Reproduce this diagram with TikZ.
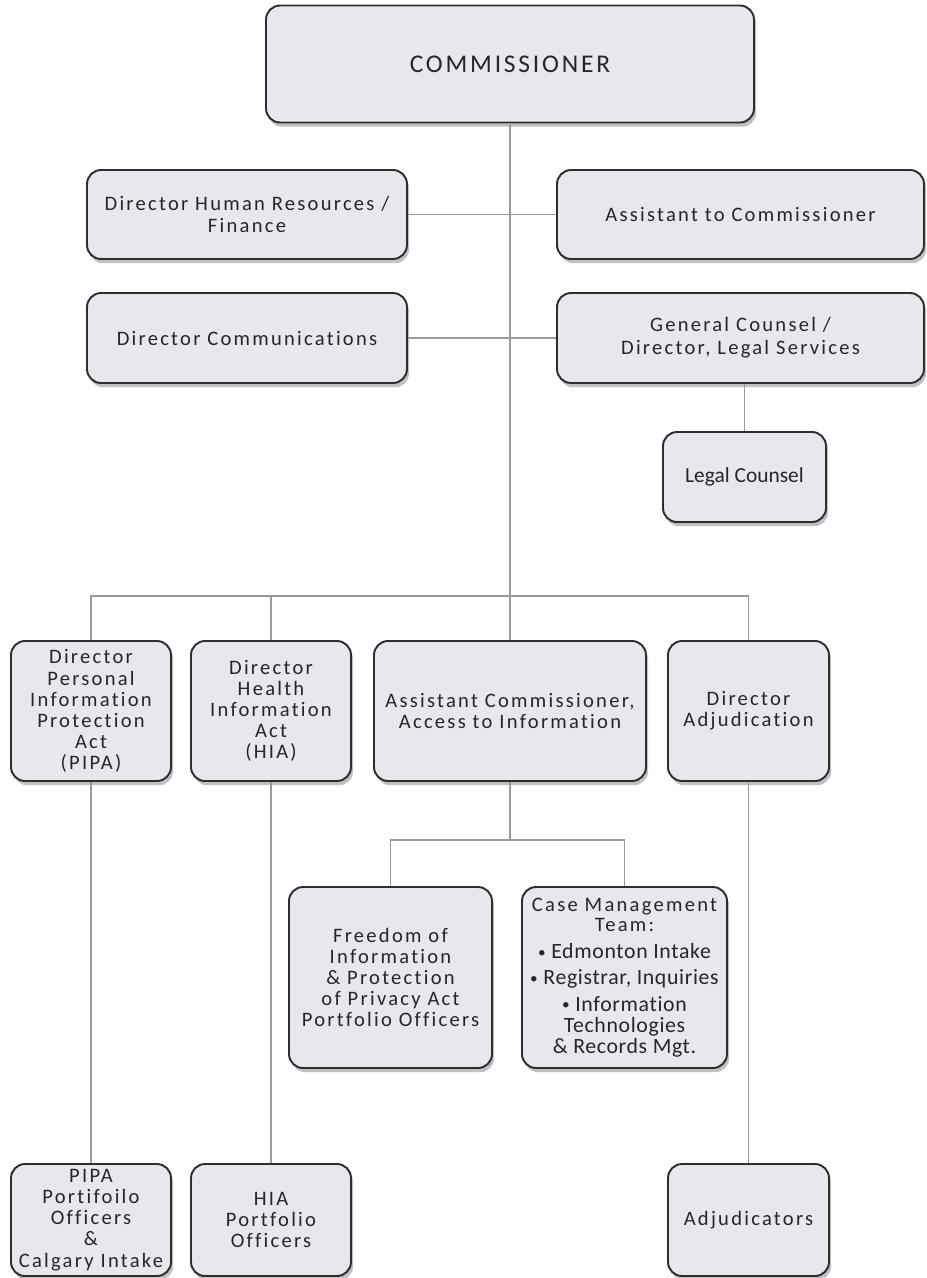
\documentclass[tikz,border=0pt]{standalone}
\usepackage{fontspec}
\setmainfont[Ligatures=NoCommon]{Carlito}
\newfontfamily\spc[LetterSpace=11,Ligatures=NoCommon]{Carlito}
\newfontfamily\bul[LetterSpace=3,Ligatures=NoCommon]{Carlito}
\usetikzlibrary{shadows}

\definecolor{boxfill}{HTML}{E7E8ED}
\definecolor{boxline}{HTML}{2E2E2E}
\definecolor{linkgray}{HTML}{9A9A9A}

\newcommand{\listdot}{\raisebox{0.15ex}{\scalebox{0.7}{\textbullet}}}

\tikzset{
  post/.style={draw=boxline, line width=1.1pt, fill=boxfill, rounded corners=8pt,
    align=center, inner sep=2pt, text=black!85,
    font=\spc\fontsize{11.7}{12}\selectfont,
    drop shadow={shadow xshift=1.2pt, shadow yshift=-2.4pt, opacity=0.35, fill=black!70}},
  link/.style={draw=linkgray, line width=0.7pt}
}

\begin{document}
\begin{tikzpicture}
\useasboundingbox (0,0) rectangle (18.52,-25.56);

% Draw top box
\node[post, minimum width=9.76cm, minimum height=2.34cm, font=\spc\fontsize{14.5}{16}\selectfont] (comm) at (10.2,-1.28) {COMMISSIONER};

% Draw staff boxes
\node[post, minimum width=6.4cm, minimum height=1.78cm] (hr) at (4.94,-4.29) {Director Human Resources /\\[1pt]Finance};
\node[post, minimum width=7.34cm, minimum height=1.78cm] (asst) at (14.81,-4.29) {Assistant to Commissioner};
\node[post, minimum width=6.4cm, minimum height=1.8cm] (comms) at (4.94,-6.76) {Director Communications};
\node[post, minimum width=7.34cm, minimum height=1.8cm] (gc) at (14.81,-6.76) {General Counsel /\\[1pt]Director, Legal Services};
\node[post, minimum width=3.26cm, minimum height=1.8cm, font=\fontsize{12.2}{14}\selectfont] (legal) at (14.89,-9.54) {Legal Counsel};

% Draw director boxes
\node[post, minimum width=3.2cm, minimum height=2.8cm] (pipa) at (1.82,-14.22) {Director\\Personal\\Information\\Protection\\Act\\(PIPA)};
\node[post, minimum width=3.2cm, minimum height=2.8cm] (hia) at (5.42,-14.22) {Director\\Health\\Information\\Act\\(HIA)};
\node[post, minimum width=5.44cm, minimum height=2.8cm] (ac) at (10.2,-14.22) {Assistant Commissioner,\\Access to Information};
\node[post, minimum width=3.22cm, minimum height=2.8cm] (adj) at (14.97,-14.22) {Director\\Adjudication};

% Draw boxes under assistant commissioner
\node[post, minimum width=4.06cm, minimum height=3.62cm] (foip) at (7.81,-19.55) {Freedom of\\Information\\\& Protection\\of Privacy Act\\Portfolio Officers};
\node[post, minimum width=4.1cm, minimum height=3.62cm, inner sep=1pt] (cmt) at (12.49,-19.55) {Case Management\\[-0.5pt]Team:\\[3.5pt]
  {\bul\fontsize{12.4}{12.5}\selectfont\listdot\ Edmonton Intake}\\[3pt]
  {\bul\fontsize{12.4}{12.5}\selectfont\listdot\ Registrar, Inquiries}\\[3pt]
  {\bul\fontsize{12.4}{12.5}\selectfont\listdot\ Information}\\
  {\bul\fontsize{12.4}{12.5}\selectfont Technologies}\\
  {\bul\fontsize{12.4}{12.5}\selectfont\& Records Mgt.}};

% Draw officer boxes
\node[post, minimum width=3.2cm, minimum height=2.24cm] (pipaoff) at (1.82,-24.4) {PIPA\\Portifoilo\\Officers\\\&\\Calgary Intake};
\node[post, minimum width=3.2cm, minimum height=2.24cm] (hiaoff) at (5.42,-24.4) {HIA\\Portfolio\\Officers};
\node[post, minimum width=3.22cm, minimum height=2.24cm] (adjoff) at (14.97,-24.4) {Adjudicators};

% Draw connectors
\coordinate (bus) at (10.2,-11.92);
\coordinate (subbus) at (10.2,-16.8);
\draw[link] (comm.south) -- (ac.north);
\draw[link] (hr.east) -- (asst.west);
\draw[link] (comms.east) -- (gc.west);
\draw[link] (gc.south -| legal.north) -- (legal.north);
\draw[link] (pipa.north) |- (bus) -| (adj.north);
\draw[link] (hia.north) -- (hia.north |- bus);
\draw[link] (ac.south) -- (subbus);
\draw[link] (foip.north) |- (subbus) -| (cmt.north);
\draw[link] (pipa.south) -- (pipaoff.north);
\draw[link] (hia.south) -- (hiaoff.north);
\draw[link] (adj.south) -- (adjoff.north);
\end{tikzpicture}
\end{document}
